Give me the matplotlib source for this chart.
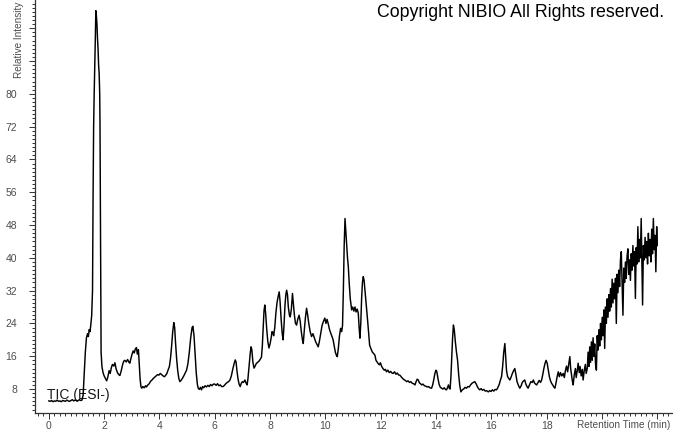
import matplotlib
matplotlib.use("Agg")
import matplotlib.pyplot as plt
from matplotlib.ticker import MultipleLocator, FixedLocator

plt.rcParams['font.family'] = ['Liberation Sans', 'DejaVu Sans']

# TIC chromatogram (retention time in min, relative intensity)
time_min = [
    0.00, 0.05, 0.10, 0.15, 0.20, 0.25, 0.30, 0.35, 0.40, 0.45, 0.50, 0.55, 0.60, 0.65,
    0.70, 0.75, 0.80, 0.85, 0.90, 0.95, 1.00, 1.05, 1.10, 1.15, 1.20, 1.24, 1.28, 1.32,
    1.36, 1.40, 1.43, 1.46, 1.49, 1.52, 1.55, 1.58, 1.60, 1.62, 1.64, 1.66, 1.68, 1.70,
    1.72, 1.74, 1.76, 1.78, 1.80, 1.82, 1.84, 1.85, 1.86, 1.87, 1.88, 1.89, 1.92, 1.96,
    2.00, 2.05, 2.09, 2.13, 2.18, 2.22, 2.26, 2.30, 2.35, 2.39, 2.43, 2.48, 2.53, 2.57,
    2.62, 2.67, 2.71, 2.75, 2.80, 2.85, 2.90, 2.93, 2.97, 3.01, 3.05, 3.09, 3.13, 3.17,
    3.20, 3.24, 3.27, 3.30, 3.33, 3.36, 3.40, 3.45, 3.50, 3.53, 3.58, 3.63, 3.68, 3.73,
    3.78, 3.83, 3.88, 3.93, 3.98, 4.03, 4.08, 4.13, 4.18, 4.22, 4.27, 4.31, 4.36, 4.40,
    4.44, 4.48, 4.52, 4.55, 4.58, 4.62, 4.66, 4.70, 4.74, 4.78, 4.83, 4.88, 4.93, 4.98,
    5.03, 5.08, 5.13, 5.18, 5.21, 5.25, 5.29, 5.33, 5.37, 5.40, 5.44, 5.48, 5.52, 5.56,
    5.60, 5.65, 5.70, 5.75, 5.80, 5.85, 5.90, 5.95, 6.00, 6.05, 6.10, 6.15, 6.20, 6.25,
    6.30, 6.35, 6.40, 6.45, 6.50, 6.55, 6.60, 6.65, 6.70, 6.74, 6.77, 6.80, 6.84, 6.88,
    6.92, 6.96, 7.00, 7.04, 7.09, 7.13, 7.17, 7.20, 7.24, 7.28, 7.31, 7.34, 7.38, 7.42,
    7.46, 7.50, 7.55, 7.60, 7.65, 7.69, 7.72, 7.75, 7.78, 7.81, 7.84, 7.88, 7.92, 7.96,
    8.00, 8.04, 8.07, 8.10, 8.13, 8.17, 8.21, 8.25, 8.29, 8.33, 8.36, 8.40, 8.44, 8.47,
    8.50, 8.54, 8.57, 8.60, 8.63, 8.66, 8.70, 8.73, 8.77, 8.81, 8.84, 8.88, 8.92, 8.96,
    9.00, 9.05, 9.09, 9.13, 9.17, 9.20, 9.24, 9.28, 9.32, 9.36, 9.40, 9.45, 9.50, 9.55,
    9.60, 9.65, 9.70, 9.74, 9.78, 9.83, 9.88, 9.93, 9.98, 10.02, 10.06, 10.10, 10.15, 10.20,
    10.24, 10.28, 10.32, 10.36, 10.40, 10.43, 10.47, 10.51, 10.55, 10.59, 10.62, 10.65, 10.68, 10.71,
    10.74, 10.77, 10.80, 10.83, 10.86, 10.90, 10.95, 10.99, 11.03, 11.07, 11.11, 11.15, 11.19, 11.22,
    11.25, 11.28, 11.31, 11.34, 11.37, 11.40, 11.44, 11.49, 11.53, 11.57, 11.60, 11.65, 11.70, 11.75,
    11.79, 11.83, 11.87, 11.91, 11.95, 11.99, 12.03, 12.08, 12.13, 12.17, 12.21, 12.26, 12.31, 12.36,
    12.41, 12.45, 12.50, 12.55, 12.60, 12.65, 12.69, 12.74, 12.79, 12.84, 12.89, 12.94, 12.99, 13.04,
    13.09, 13.14, 13.19, 13.24, 13.28, 13.32, 13.36, 13.40, 13.44, 13.48, 13.53, 13.58, 13.63, 13.68,
    13.73, 13.78, 13.84, 13.88, 13.92, 13.96, 14.00, 14.03, 14.07, 14.11, 14.15, 14.20, 14.25, 14.30,
    14.34, 14.38, 14.42, 14.45, 14.48, 14.51, 14.54, 14.57, 14.60, 14.63, 14.66, 14.70, 14.74, 14.78,
    14.82, 14.86, 14.90, 14.95, 15.00, 15.05, 15.10, 15.15, 15.20, 15.25, 15.30, 15.35, 15.40, 15.45,
    15.50, 15.55, 15.58, 15.63, 15.68, 15.73, 15.78, 15.83, 15.89, 15.94, 15.99, 16.04, 16.09, 16.14,
    16.19, 16.24, 16.29, 16.33, 16.37, 16.41, 16.45, 16.49, 16.52, 16.55, 16.59, 16.63, 16.67, 16.71,
    16.75, 16.80, 16.85, 16.89, 16.93, 16.98, 17.03, 17.08, 17.12, 17.17, 17.21, 17.25, 17.29, 17.33,
    17.38, 17.43, 17.48, 17.52, 17.56, 17.60, 17.64, 17.68, 17.73, 17.78, 17.82, 17.86, 17.90, 17.94,
    17.98, 18.02, 18.06, 18.10, 18.14, 18.18, 18.22, 18.26, 18.30, 18.34, 18.38, 18.42, 18.46, 18.50,
    18.55, 18.60, 18.64, 18.68, 18.72, 18.76, 18.80, 18.84, 18.87, 18.90, 18.93, 18.96, 19.00, 19.04,
    19.07, 19.11, 19.14, 19.18, 19.21, 19.25, 19.29, 19.32, 19.36, 19.40, 19.43, 19.47, 19.50, 19.53,
    19.56, 19.59, 19.62, 19.65, 19.68, 19.71, 19.74, 19.77, 19.80, 19.83, 19.86, 19.89, 19.92, 19.95,
    19.98, 20.01, 20.04, 20.07, 20.10, 20.13, 20.16, 20.19, 20.22, 20.25, 20.28, 20.31, 20.34, 20.37,
    20.40, 20.43, 20.46, 20.49, 20.52, 20.55, 20.58, 20.61, 20.64, 20.67, 20.70, 20.73, 20.76, 20.79,
    20.82, 20.85, 20.88, 20.91, 20.94, 20.97, 21.00, 21.03, 21.06, 21.09, 21.12, 21.15, 21.18, 21.21,
    21.24, 21.27, 21.30, 21.33, 21.36, 21.39, 21.42, 21.45, 21.47, 21.50, 21.53, 21.56, 21.59, 21.62,
    21.65, 21.68, 21.71, 21.74, 21.77, 21.80, 21.83, 21.86, 21.89, 21.92, 21.95, 21.98, 22.00,
]

rel_intensity = [
    5.1, 5.0, 5.2, 4.9, 5.1, 5.0, 5.3, 5.0, 5.1, 4.9, 5.2, 5.1, 5.0, 5.3,
    5.1, 5.0, 5.2, 5.4, 5.1, 5.3, 5.2, 5.1, 5.4, 5.2, 5.3, 6.5, 12.0, 17.0,
    20.5, 21.5, 20.8, 22.5, 22.0, 23.8, 26.0, 32.0, 55.0, 72.0, 80.0, 86.0, 93.0, 100.3,
    99.0, 97.0, 93.5, 91.0, 87.0, 85.0, 80.0, 73.0, 60.0, 45.0, 28.0, 17.0, 13.5, 12.0,
    11.2, 10.5, 10.0, 10.8, 12.5, 11.8, 13.2, 14.0, 13.6, 14.4, 13.0, 12.0, 11.5, 11.3,
    12.5, 14.0, 14.8, 15.0, 14.6, 15.2, 14.5, 14.3, 15.5, 16.5, 17.3, 16.8, 17.8, 18.1,
    16.5, 17.6, 14.0, 10.5, 8.6, 8.2, 8.6, 8.3, 8.8, 8.5, 9.0, 9.3, 9.9, 10.2,
    10.6, 10.9, 11.2, 11.5, 11.4, 11.8, 11.5, 11.2, 11.0, 11.3, 11.8, 12.6, 13.5, 15.5,
    18.5, 22.0, 24.2, 23.0, 19.5, 15.5, 12.5, 10.6, 9.8, 10.1, 10.6, 11.2, 11.9, 12.6,
    14.2, 17.0, 20.5, 23.0, 23.3, 21.0, 16.5, 12.0, 9.2, 8.2, 7.9, 8.4, 7.8, 8.6,
    8.3, 8.8, 8.5, 8.9, 8.6, 9.1, 8.8, 9.2, 9.2, 8.9, 9.3, 8.8, 9.0, 8.6,
    8.6, 8.9, 9.3, 9.6, 9.8, 10.2, 11.2, 12.8, 14.2, 15.1, 14.6, 12.6, 10.5, 9.2,
    8.6, 9.4, 9.8, 9.6, 10.2, 9.5, 9.0, 10.5, 13.5, 16.5, 18.3, 17.6, 14.5, 13.1,
    13.6, 14.2, 14.5, 14.8, 15.3, 15.8, 18.5, 23.0, 27.0, 28.5, 26.5, 22.5, 19.5, 18.0,
    19.0, 20.5, 22.0, 21.8, 21.0, 23.0, 26.5, 29.0, 30.5, 31.7, 29.5, 25.0, 21.5, 20.0,
    23.0, 28.5, 31.0, 32.1, 31.0, 28.0, 26.0, 25.6, 27.5, 31.3, 29.0, 26.0, 24.0, 23.6,
    25.0, 26.0, 24.5, 22.0, 20.0, 19.1, 22.5, 25.5, 27.7, 26.0, 24.0, 22.0, 20.8, 21.5,
    20.5, 19.5, 18.8, 18.3, 19.5, 21.5, 23.5, 24.5, 25.3, 24.0, 25.0, 24.0, 22.5, 21.5,
    20.8, 20.0, 18.5, 17.0, 16.2, 15.9, 18.0, 21.0, 22.8, 22.0, 23.5, 32.0, 43.0, 49.6,
    46.5, 43.0, 40.0, 37.8, 34.0, 30.0, 27.3, 28.0, 27.0, 28.0, 26.8, 27.5, 26.5, 23.0,
    20.4, 24.0, 30.0, 34.0, 35.4, 34.5, 31.5, 28.0, 24.5, 21.0, 18.7, 17.8, 17.0, 16.6,
    16.3, 15.0, 14.6, 14.2, 13.9, 14.4, 13.6, 13.0, 12.6, 12.8, 12.2, 12.6, 12.0, 12.3,
    11.9, 11.8, 12.2, 11.6, 11.9, 11.4, 11.4, 11.0, 10.6, 10.3, 10.1, 9.8, 10.0, 9.6,
    9.8, 9.4, 9.3, 9.0, 9.8, 10.4, 10.2, 9.5, 9.3, 9.0, 9.2, 8.8, 8.7, 8.5,
    8.6, 8.3, 8.2, 9.0, 10.3, 11.8, 12.6, 12.2, 10.6, 9.2, 8.5, 8.2, 8.0, 8.3,
    7.9, 7.8, 8.4, 9.0, 8.2, 8.0, 11.0, 15.5, 20.5, 23.6, 22.5, 19.5, 17.0, 15.0,
    11.5, 8.8, 7.3, 7.8, 8.0, 8.4, 8.2, 8.6, 8.5, 9.0, 9.4, 9.6, 9.8, 9.3,
    8.5, 8.0, 7.8, 8.1, 7.7, 7.9, 7.5, 7.6, 7.3, 7.6, 7.4, 7.8, 7.5, 7.9,
    7.8, 8.4, 9.2, 10.2, 11.0, 13.5, 17.0, 19.1, 16.0, 12.5, 11.0, 10.6, 10.2, 10.8,
    11.6, 12.4, 13.0, 11.5, 9.8, 8.9, 8.2, 8.8, 9.6, 10.0, 10.2, 9.2, 8.6, 8.2,
    9.0, 9.8, 9.6, 10.2, 9.5, 9.2, 9.0, 9.5, 10.1, 9.6, 10.2, 11.5, 13.0, 14.2,
    15.0, 14.3, 12.6, 11.0, 10.0, 9.4, 9.0, 8.5, 8.2, 9.5, 11.0, 12.2, 11.0, 12.0,
    11.2, 11.8, 10.8, 12.5, 13.6, 12.2, 14.0, 15.9, 13.0, 11.5, 10.0, 9.0, 11.5, 13.0,
    10.8, 12.6, 14.3, 12.0, 13.5, 11.2, 12.8, 10.2, 12.5, 14.0, 11.8, 13.0, 17.0, 13.5,
    18.3, 14.5, 19.5, 15.0, 20.5, 16.0, 19.0, 14.0, 12.6, 21.0, 17.5, 22.5, 18.5, 24.0,
    20.0, 25.5, 21.0, 27.3, 17.9, 28.0, 24.0, 30.0, 25.5, 31.0, 27.0, 32.5, 28.0, 34.8,
    29.0, 33.8, 30.0, 35.0, 24.0, 36.0, 31.5, 37.0, 33.0, 39.5, 41.5, 33.5, 26.0, 37.5,
    34.0, 39.0, 35.0, 40.5, 42.2, 36.0, 39.5, 34.5, 41.0, 37.0, 43.0, 38.0, 41.5, 30.1,
    42.5, 38.5, 47.6, 39.0, 44.5, 40.0, 49.6, 37.0, 28.5, 43.0, 39.5, 45.0, 40.0, 44.0,
    38.5, 46.0, 40.5, 44.5, 39.0, 47.0, 41.0, 49.6, 42.0, 45.5, 36.6, 47.6, 43.0,
]

x_major = [0, 2, 4, 6, 8, 10, 12, 14, 16, 18, 20, 22]
x_labels = ['0', '2', '4', '6', '8', '10', '12', '14', '16', '18', '', '']
y_major = [8, 16, 24, 32, 40, 48, 56, 64, 72, 80, 88, 96]
y_labels = ['8', '16', '24', '32', '40', '48', '56', '64', '72', '80', '', '']

W, H = 673, 433
fig = plt.figure(figsize=(W / 100, H / 100), dpi=100)
ax = fig.add_axes([35 / W, 20 / H, 1 - 35 / W, 1 - 20 / H])

ax.plot(time_min, rel_intensity, color='black', lw=1.05, zorder=3)
ax.set_xlim(-0.5, 22.57)
ax.set_ylim(2.15, 102.9)

for side in ['top', 'right']:
    ax.spines[side].set_visible(False)
for side in ['left', 'bottom']:
    ax.spines[side].set_color('#333333')
    ax.spines[side].set_linewidth(0.9)

ax.xaxis.set_major_locator(FixedLocator(x_major))
ax.set_xticklabels(x_labels)
ax.xaxis.set_minor_locator(MultipleLocator(0.2))
ax.yaxis.set_major_locator(FixedLocator(y_major))
ax.set_yticklabels(y_labels)
ax.yaxis.set_minor_locator(MultipleLocator(1))

ax.tick_params(axis='both', which='both', direction='out', color='#333333',
               labelsize=7.5, labelcolor='#4d4d4d', width=0.7)
ax.tick_params(axis='both', which='major', length=4.5)
ax.tick_params(axis='both', which='minor', length=2)
ax.tick_params(axis='y', which='major', pad=8.5)
ax.tick_params(axis='x', which='major', pad=1.5)

ax.text(-0.07, 5.6, 'TIC (ESI-)', fontsize=10, color='#1a1a1a', zorder=1)

fig.text(19 / W, 1 - 78 / H, 'Relative Intensity', rotation=90, ha='center', va='bottom',
         fontsize=7.2, color='#4d4d4d')
fig.text(577 / W, 1 - 425 / H, 'Retention Time (min)', ha='left', va='center',
         fontsize=7.2, color='#4d4d4d')
fig.text(377 / W, 1 - 4 / H, 'Copyright NIBIO All Rights reserved.', ha='left', va='top',
         fontsize=12.8, color='black')

fig.savefig('out.png', dpi=100)
